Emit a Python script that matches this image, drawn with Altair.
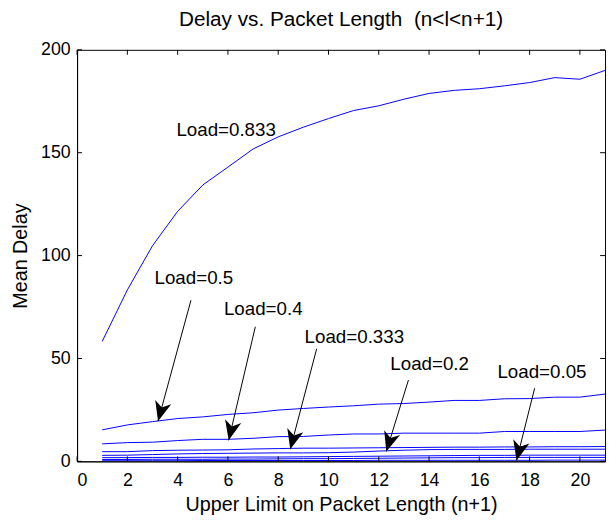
import math
import altair as alt
import pandas as pd

# ---- data ----
x_vals = list(range(1, 22))
load_0833 = [58.3, 83.3, 104.8, 121.5, 134.3, 143.0, 151.8, 157.7, 162.4, 166.6, 170.5,
             172.8, 176.0, 178.8, 180.3, 181.1, 182.5, 184.1, 186.5, 185.7, 190.0]
load_05 = [15.3, 17.7, 19.3, 20.8, 21.6, 22.8, 23.6, 24.9, 25.7, 26.4, 27.0,
           27.8, 28.1, 28.8, 29.6, 29.6, 30.4, 30.5, 31.2, 31.2, 32.7]
load_04 = [8.5, 9.1, 9.3, 10.1, 10.7, 10.7, 11.2, 12.0, 12.1, 12.8, 13.3,
           13.3, 13.7, 13.7, 13.7, 13.7, 14.5, 14.5, 14.5, 14.5, 15.2]
load_0333 = [4.7, 4.7, 5.2, 5.4, 5.5, 5.6, 6.0, 6.2, 6.4, 6.4, 6.5,
             6.6, 6.7, 6.8, 6.9, 6.9, 7.0, 7.0, 7.1, 7.1, 7.2]
load_02 = [2.9, 3.0, 3.3, 3.6, 3.8, 3.9, 4.0, 4.1, 4.1, 4.2, 4.5,
           5.0, 5.4, 5.7, 5.8, 5.8, 5.8, 5.9, 5.9, 5.9, 5.9]
load_c = [1.8, 1.8, 1.9, 1.9, 2.0, 2.0, 2.1, 2.1, 2.2, 2.3, 2.4,
          2.5, 2.6, 2.7, 2.8, 2.9, 2.9, 3.0, 3.0, 3.0, 3.0]
load_d = [0.9, 0.9, 1.0, 1.0, 1.0, 1.1, 1.1, 1.2, 1.3, 1.3, 1.4,
          1.5, 1.6, 1.7, 1.8, 1.8, 1.9, 1.9, 1.9, 1.9, 1.9]
load_005 = [0.3, 0.3, 0.3, 0.3, 0.4, 0.4, 0.4, 0.4, 0.4, 0.4, 0.4,
            0.5, 0.5, 0.5, 0.5, 0.5, 0.5, 0.5, 0.6, 0.6, 0.6]

series = {"0.833": load_0833, "0.5": load_05, "0.4": load_04, "0.333": load_0333,
          "0.2": load_02, "c": load_c, "d": load_d, "0.05": load_005}

# annotations
ann_labels = ["Load=0.833", "Load=0.5", "Load=0.4", "Load=0.333", "Load=0.2", "Load=0.05"]
ann_text_x = [3.95, 3.08, 5.84, 9.05, 12.46, 16.72]
ann_text_y = [161.0, 89.1, 73.9, 60.3, 47.1, 43.5]
arrow_labels = ["Load=0.5", "Load=0.4", "Load=0.333", "Load=0.2", "Load=0.05"]
arrow_start_x = [4.53, 7.09, 9.53, 13.18, 18.2]
arrow_start_y = [78.3, 65.4, 54.7, 39.5, 35.5]
arrow_tip_x = [3.22, 6.03, 8.48, 12.3, 17.48]
arrow_tip_y = [19.5, 10.2, 5.9, 4.8, 0.4]

x_ticks = list(range(0, 21, 2))
y_ticks = [0, 50, 100, 150, 200]

TITLE = "Delay vs. Packet Length\u00a0\u00a0(n<l<n+1)"
X_TITLE = "Upper Limit on Packet Length (n+1)"
Y_TITLE = "Mean Delay"

# ---- layout ----
W, H = 535, 417
XMAX, YMAX = 21, 200
FONT = "Liberation Sans"

rows = []
for name, vals in series.items():
    for xv, yv in zip(x_vals, vals):
        rows.append({"load": name, "n": xv, "delay": yv})
df = pd.DataFrame(rows)

xs = alt.Scale(domain=[0, XMAX], nice=False, zero=False)
ys = alt.Scale(domain=[0, YMAX], nice=False, zero=False)

lines = alt.Chart(df).mark_line(color="#0000ff", strokeWidth=1, clip=True).encode(
    x=alt.X("n:Q", scale=xs, axis=alt.Axis(values=x_ticks, title=X_TITLE,
                                            ticks=False, grid=False, labelPadding=10, titlePadding=6)),
    y=alt.Y("delay:Q", scale=ys, axis=alt.Axis(values=y_ticks, title=Y_TITLE,
                                                ticks=False, grid=False, labelPadding=7, titlePadding=10)),
    detail="load:N",
)

text_df = pd.DataFrame({"label": ann_labels, "x": ann_text_x, "y": ann_text_y})
texts = alt.Chart(text_df).mark_text(align="left", baseline="middle", font=FONT,
                                     fontSize=19, color="black").encode(
    x=alt.X("x:Q", scale=xs), y=alt.Y("y:Q", scale=ys), text="label:N")

px_x = W / XMAX
px_y = H / YMAX
angles = []
for sx, sy, tx, ty in zip(arrow_start_x, arrow_start_y, arrow_tip_x, arrow_tip_y):
    dx = (tx - sx) * px_x
    dy = -(ty - sy) * px_y
    angles.append(math.degrees(math.atan2(-dx, dy)) % 360)

arr_df = pd.DataFrame({"label": arrow_labels, "sx": arrow_start_x, "sy": arrow_start_y,
                       "tx": arrow_tip_x, "ty": arrow_tip_y, "angle": angles})
arrow_lines = alt.Chart(arr_df).mark_rule(color="black", strokeWidth=1).encode(
    x=alt.X("sx:Q", scale=xs), y=alt.Y("sy:Q", scale=ys),
    x2="tx:Q", y2="ty:Q")
heads = alt.Chart(arr_df).mark_point(
    shape="M0,0 L-0.42,-1 L0,-0.72 L0.42,-1 Z", filled=True, color="black",
    size=1600, opacity=1, strokeWidth=0).encode(
    x=alt.X("tx:Q", scale=xs), y=alt.Y("ty:Q", scale=ys),
    angle=alt.Angle("angle:Q", scale=None))

# inward ticks (Matlab style box)
xt_df = pd.DataFrame({"t": x_ticks})
yt_df = pd.DataFrame({"t": y_ticks})
tick_style = dict(color="black", strokeWidth=1)
bt = alt.Chart(xt_df).mark_rule(**tick_style).encode(
    x=alt.X("t:Q", scale=xs), y=alt.value(H), y2=alt.value(H - 5))
tt = alt.Chart(xt_df).mark_rule(**tick_style).encode(
    x=alt.X("t:Q", scale=xs), y=alt.value(0), y2=alt.value(5))
lt = alt.Chart(yt_df).mark_rule(**tick_style).encode(
    y=alt.Y("t:Q", scale=ys), x=alt.value(0), x2=alt.value(5))
rt = alt.Chart(yt_df).mark_rule(**tick_style).encode(
    y=alt.Y("t:Q", scale=ys), x=alt.value(W), x2=alt.value(W - 5))

chart = alt.layer(lines, bt, tt, lt, rt, arrow_lines, heads, texts).properties(
    width=W, height=H,
    background="white",
    title=alt.TitleParams(TITLE, font=FONT, fontSize=21,
                          fontWeight="normal", color="black", offset=11),
    autosize=alt.AutoSizeParams(type="none"),
    padding={"left": 70, "top": 39, "right": 2, "bottom": 52},
).configure_view(stroke="black", strokeWidth=1).configure_axis(
    labelFont=FONT, labelFontSize=18, labelColor="black", titleFont=FONT, titleFontSize=20,
    titleFontWeight="normal", titleColor="black", grid=False, domainColor="black",
)

chart.save("out.html", embed_options={"renderer": "svg", "actions": False})
